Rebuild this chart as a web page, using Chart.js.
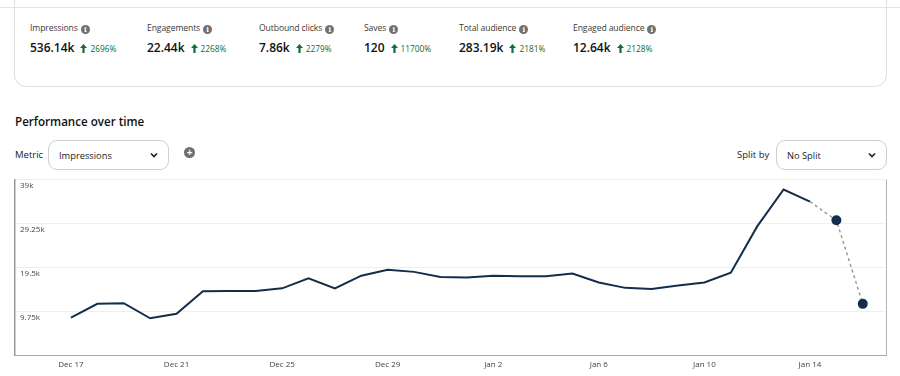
<!DOCTYPE html>
<html>
<head>
<meta charset="utf-8">
<script src="https://cdn.jsdelivr.net/npm/chart.js@4/dist/chart.umd.min.js"></script>
<style>
  html, body { margin:0; padding:0; background:#fff; }
  body { width:900px; height:376px; position:relative; overflow:hidden; font-family:"Open Sans","Noto Sans",sans-serif; color:#111; }
  .topline { position:absolute; left:0; top:7px; width:900px; height:0; border-top:1px solid #e3e3e3; }
  .card { position:absolute; left:14px; top:-14px; width:873px; height:101px; border:1px solid #dedede; border-radius:12px; box-sizing:border-box; }
  .metric { position:absolute; top:21px; }
  .mlabel { font-size:8.6px; letter-spacing:-0.1px; color:#3a3a3a; white-space:nowrap; height:14px; line-height:14px; }
  .info { display:inline-block; width:9px; height:9px; border-radius:50%; background:#707070; color:#fff; font-size:7px; line-height:9px; text-align:center; font-weight:700; vertical-align:-1px; margin-left:3px; font-family:"DejaVu Serif",serif; }
  .mval { margin-top:2px; white-space:nowrap; height:18px; line-height:18px; }
  .num { font-size:12px; font-weight:600; color:#111; }
  .arrow { display:inline-block; width:7px; height:9px; margin-left:6px; vertical-align:-0.5px; }
  .pct { font-size:8.3px; color:#0b6b3a; margin-left:3px; }
  .title { position:absolute; left:15px; top:114px; font-size:11.6px; font-weight:600; color:#111; }
  .lbl { position:absolute; font-size:9.5px; color:#222; }
  .sel { position:absolute; border:1px solid #cfcfcf; border-radius:9px; box-sizing:border-box; font-size:9.3px; color:#222; }
  .sel span { position:absolute; top:50%; transform:translateY(-50%); }
  .chev { position:absolute; top:50%; transform:translateY(-50%); width:10px; height:8px; }
  .plus { position:absolute; left:184px; top:147px; width:11px; height:11px; border-radius:50%; background:#6f6f6f; color:#fff; font-size:10px; font-weight:700; line-height:11px; text-align:center; }
  #wrap { position:absolute; left:0; top:170px; width:900px; height:206px; }
</style>
</head>
<body>
<div class="topline"></div>
<div class="card"></div>
<div id="metrics"></div>
<div class="title">Performance over time</div>
<div class="lbl" style="left:15px; top:148px;">Metric</div>
<div class="sel" style="left:48px; top:140px; width:121px; height:30px;"><span style="left:10px;">Impressions</span>
  <svg class="chev" style="right:9px;" viewBox="0 0 10 8"><path d="M2 2.5 L5 5.5 L8 2.5" fill="none" stroke="#222" stroke-width="1.7"/></svg></div>
<div class="plus">+</div>
<div class="lbl" style="left:737px; top:148px;">Split by</div>
<div class="sel" style="left:776px; top:140px; width:111px; height:30px;"><span style="left:10px;">No Split</span>
  <svg class="chev" style="right:9px;" viewBox="0 0 10 8"><path d="M2 2.5 L5 5.5 L8 2.5" fill="none" stroke="#222" stroke-width="1.7"/></svg></div>
<div id="wrap"><canvas id="c" width="900" height="206"></canvas></div>
<script>
// ---- summary metrics ----
const metricNames = ['Impressions','Engagements','Outbound clicks','Saves','Total audience','Engaged audience'];
const metricValues = ['536.14k','22.44k','7.86k','120','283.19k','12.64k'];
const metricChanges = ['2696%','2268%','2279%','11700%','2181%','2128%'];
const metricLeft = [30,147,259,364,459,573];

// ---- chart data ----
const dates = ['Dec 17','Dec 18','Dec 19','Dec 20','Dec 21','Dec 22','Dec 23','Dec 24','Dec 25','Dec 26',
  'Dec 27','Dec 28','Dec 29','Dec 30','Dec 31','Jan 1','Jan 2','Jan 3','Jan 4','Jan 5','Jan 6',
  'Jan 7','Jan 8','Jan 9','Jan 10','Jan 11','Jan 12','Jan 13','Jan 14','Jan 15','Jan 16'];
const impressions = [8400,11450,11600,8250,9250,14250,14300,14300,14900,17100,
  14900,17700,19000,18550,17400,17300,17700,17600,17600,18200,16200,
  15000,14750,15500,16200,18350,28650,36850,34150,30000,11450];
const yTicks = [0,9750,19500,29250,39000];
const xTickLabels = ['Dec 17','Dec 21','Dec 25','Dec 29','Jan 2','Jan 6','Jan 10','Jan 14'];
const partialFrom = 28; // data from Jan 14 onward is incomplete (dashed)

const arrowSvg = '<svg class="arrow" viewBox="0 0 7 9"><path d="M3.5 0 L7 4 L4.6 4 L4.6 9 L2.4 9 L2.4 4 L0 4 Z" fill="#146b40"/></svg>';
const m = document.getElementById('metrics');
metricNames.forEach((n,i)=>{
  const d = document.createElement('div');
  d.className='metric'; d.style.left = metricLeft[i]+'px';
  d.innerHTML = '<div class="mlabel">'+n+'<span class="info">i</span></div>'+
    '<div class="mval"><span class="num">'+metricValues[i]+'</span>'+arrowSvg+'<span class="pct">'+metricChanges[i]+'</span></div>';
  m.appendChild(d);
});

const navy = '#132e4b';
const frame = {
  id:'frame',
  afterDraw(chart){
    const a = chart.chartArea, ctx = chart.ctx;
    ctx.save();
    ctx.strokeStyle = '#b5b5b5'; ctx.lineWidth = 1;
    ctx.beginPath(); ctx.moveTo(a.right+0.5, a.top); ctx.lineTo(a.right+0.5, a.bottom); ctx.stroke();
    ctx.restore();
  }
};

new Chart(document.getElementById('c'), {
  type:'line',
  data:{
    datasets:[{
      data: impressions.map((v,i)=>({x:i,y:v})),
      borderColor: navy,
      borderWidth: 2,
      tension: 0,
      pointRadius: ctx => ctx.dataIndex > partialFrom ? 4 : 0,
      pointBackgroundColor: navy,
      pointBorderColor: navy,
      segment:{
        borderColor: ctx => ctx.p0DataIndex >= partialFrom ? '#9a9a9a' : undefined,
        borderDash: ctx => ctx.p0DataIndex >= partialFrom ? [3,3] : undefined,
        borderWidth: ctx => ctx.p0DataIndex >= partialFrom ? 1.5 : undefined
      }
    }]
  },
  options:{
    responsive:false,
    animation:false,
    layout:{ padding:{ left:5, right:14, top:8, bottom:1 } },
    plugins:{ legend:{display:false}, tooltip:{enabled:false} },
    scales:{
      x:{
        type:'linear', min:-2.12, max:30.88,
        afterBuildTicks: s => { s.ticks = xTickLabels.map(l=>({value: dates.indexOf(l)})); },
        ticks:{ callback: v => dates[v] || '', font:{size:8, family:'"Open Sans","Noto Sans",sans-serif'}, color:'#444', padding:5, maxRotation:0, autoSkip:false },
        grid:{ display:false, drawTicks:false },
        border:{ display:true, color:'#a8a8a8', width:1 }
      },
      y:{
        min:0, max:39000,
        afterBuildTicks: s => { s.ticks = yTicks.map(v=>({value:v})); },
        ticks:{ mirror:true, padding:5, labelOffset:6, callback: v => v===0 ? '' : (v/1000)+'k', font:{size:8, family:'"Open Sans","Noto Sans",sans-serif'}, color:'#444' },
        grid:{ color:'#efefef', drawTicks:false },
        border:{ display:true, color:'#999', width:1.5 }
      }
    }
  },
  plugins:[frame]
});
</script>
</body>
</html>
